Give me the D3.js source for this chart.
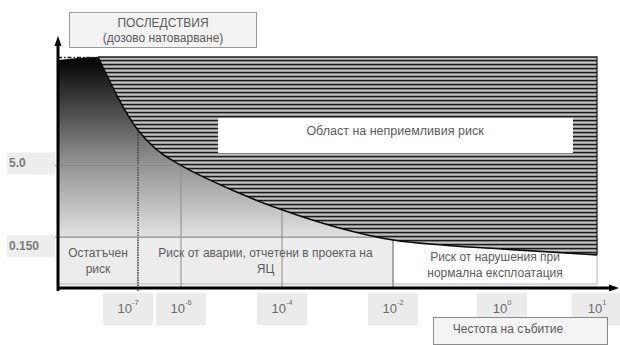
<!DOCTYPE html>
<html>
<head>
<meta charset="utf-8">
<script src="https://cdn.jsdelivr.net/npm/d3@7"></script>
<style>
  body { margin: 0; background: #fff; }
  svg text { font-family: "Liberation Sans", Arial, sans-serif; fill: #5c5c5c; }
</style>
</head>
<body>
<svg id="chart" width="620" height="345"></svg>
<script>
// boundary curve: frequency exponent (10^x) vs dose consequence
const freqExp = [-8, -7, -6.6, -6, -5.2, -4.6, -4, -3, -2, -1, 0, 1];
const doseVal = [1000, 28, 11.5, 5.0, 1.9, 1.0, 0.57, 0.24, 0.13, 0.1, 0.084, 0.063];

const freqTicks = [-7, -6, -4, -2, 0, 1];
const doseTicks = [5.0, 0.150];
const doseTickLabels = ["5.0", "0.150"];

const zoneFrom = [-9, -7, -2];
const zoneTo = [-7, -2, 1];
const zoneLabels = [
    ["Остатъчен", "риск"],
    ["Риск от аварии, отчетени в проекта на", "ЯЦ"],
    ["Риск от нарушения при", "нормална експлоатация"]
];

const yTitle = ["ПОСЛЕДСТВИЯ", "(дозово натоварване)"];
const xTitle = "Честота на събитие";
const areaLabel = "Област на неприемливия риск";

const svg = d3.select("#chart");

// x is a schematic log axis, decades are not evenly spaced in the drawing
const x = d3.scaleLinear()
    .domain([-9, -7, -6, -4, -2, 0, 1])
    .range([58, 138, 181, 282, 393, 502, 597]);
const y = d3.scaleLog()
    .domain([0.0125, 1000])
    .range([288, 57]);

const curve = freqExp.map((e, i) => ({e: e, v: doseVal[i]}));

const defs = svg.append("defs");
const grad = defs.append("linearGradient")
    .attr("id", "shade")
    .attr("gradientUnits", "userSpaceOnUse")
    .attr("x1", 0).attr("x2", 0)
    .attr("y1", 60).attr("y2", 252);
grad.append("stop").attr("offset", 0).attr("stop-color", "#050505");
grad.append("stop").attr("offset", 0.5).attr("stop-color", "#8a8a8a");
grad.append("stop").attr("offset", 1).attr("stop-color", "#f2f2f2");

const hatch = defs.append("pattern")
    .attr("id", "hatch")
    .attr("patternUnits", "userSpaceOnUse")
    .attr("width", 10).attr("height", 4);
hatch.append("rect").attr("width", 10).attr("height", 4).attr("fill", "#999");
hatch.append("rect").attr("y", 0).attr("width", 10).attr("height", 1.2).attr("fill", "#1c1c1c");
hatch.append("rect").attr("y", 2).attr("width", 10).attr("height", 1).attr("fill", "#c4c4c4");

// shaded acceptable region under the curve
const under = [{e: -9, v: 1000}].concat(curve);
svg.append("path")
    .datum(under)
    .attr("d", d3.area()
        .x(d => x(d.e))
        .y0(y.range()[0])
        .y1(d => d.e < -8 ? y(1000) + 3 : y(d.v))
        .curve(d3.curveMonotoneX))
    .attr("fill", "url(#shade)");

// zone boxes below 0.150
const zones = zoneLabels.map((l, i) => ({from: zoneFrom[i], to: zoneTo[i], lines: l, i: i}));
svg.append("g").selectAll("rect")
    .data(zones)
    .join("rect")
    .attr("x", d => x(d.from))
    .attr("y", y(0.150))
    .attr("width", d => x(d.to) - x(d.from))
    .attr("height", 284 - y(0.150))
    .attr("fill", d => d.i < 2 ? "#ececec" : "#ffffff")
    .attr("stroke", "#b8b8b8")
    .attr("stroke-width", 1);

// grid lines
const grid = svg.append("g");
grid.selectAll("line.v")
    .data([-6, -4, -2])
    .join("line")
    .attr("class", "v")
    .attr("x1", d => x(d)).attr("x2", d => x(d))
    .attr("y1", y.range()[1]).attr("y2", 288)
    .attr("stroke", d => d === -2 ? "#a8a8a8" : "#8c8c8c")
    .attr("stroke-width", d => d === -2 ? 2 : 1);
grid.append("line")
    .attr("x1", x(-7)).attr("x2", x(-7))
    .attr("y1", y.range()[1]).attr("y2", 291)
    .attr("stroke", "#333")
    .attr("stroke-width", 1.2)
    .attr("stroke-dasharray", "1.5,1");
grid.selectAll("line.h")
    .data(doseTicks)
    .join("line")
    .attr("class", "h")
    .attr("x1", 48).attr("x2", x(-2))
    .attr("y1", d => y(d)).attr("y2", d => y(d))
    .attr("stroke", "#8c8c8c")
    .attr("stroke-width", 1);

// zone texts
const zt = svg.append("g").selectAll("text")
    .data(zones)
    .join("text")
    .attr("text-anchor", "middle")
    .attr("font-size", 12)
    .attr("x", d => (x(d.from) + x(d.to)) / 2);
zt.selectAll("tspan")
    .data(d => d.lines.map((t, k) => ({t: t, k: k, d: d})))
    .join("tspan")
    .attr("x", o => (x(o.d.from) + x(o.d.to)) / 2)
    .attr("y", o => y(0.150) + (o.d.i === 2 ? 24 : 20) + o.k * 16)
    .text(o => o.t);

// unacceptable (hatched) region above the curve
svg.append("path")
    .datum(curve)
    .attr("d", d => {
        const line = d3.line().x(p => x(p.e)).y(p => y(p.v)).curve(d3.curveMonotoneX)(d);
        return line + "L" + x(1) + "," + y(1000) + "Z";
    })
    .attr("fill", "url(#hatch)");
svg.append("path")
    .datum(curve)
    .attr("d", d3.line().x(p => x(p.e)).y(p => y(p.v)).curve(d3.curveMonotoneX))
    .attr("fill", "none")
    .attr("stroke", "#0a0a0a")
    .attr("stroke-width", 1.6);
svg.append("path")
    .attr("d", `M${x(-8)},${y(1000)}H${x(1)}V${y(doseVal[doseVal.length - 1])}`)
    .attr("fill", "none")
    .attr("stroke", "#222")
    .attr("stroke-width", 1.3);

// dash-dot limit at the top left
svg.append("line")
    .attr("x1", 58).attr("x2", x(-8))
    .attr("y1", y(1000) + 0.5).attr("y2", y(1000) + 0.5)
    .attr("stroke", "#222")
    .attr("stroke-width", 1.5)
    .attr("stroke-dasharray", "4,2,1.5,2");

// label box in the hatched area
svg.append("rect")
    .attr("x", 218).attr("y", 118)
    .attr("width", 355).attr("height", 35)
    .attr("fill", "#fff");
svg.append("text")
    .attr("x", 395).attr("y", 135)
    .attr("text-anchor", "middle")
    .attr("font-size", 12.5)
    .text(areaLabel);

// axes
svg.append("line")
    .attr("x1", 58).attr("x2", 58)
    .attr("y1", 44).attr("y2", 291)
    .attr("stroke", "#000").attr("stroke-width", 3);
svg.append("path")
    .attr("d", "M58,36L61.5,46L54.5,46Z")
    .attr("fill", "#000");
svg.append("line")
    .attr("x1", 57).attr("x2", 611)
    .attr("y1", 288).attr("y2", 288)
    .attr("stroke", "#000").attr("stroke-width", 3);
svg.append("path")
    .attr("d", "M619,288L609,284.5L609,291.5Z")
    .attr("fill", "#000");

// y tick labels
const yl = svg.append("g").selectAll("g")
    .data(doseTicks)
    .join("g");
yl.append("rect")
    .attr("x", 7)
    .attr("y", (d, i) => i === 0 ? y(d) - 13 : y(d) - 2)
    .attr("width", 48).attr("height", 22)
    .attr("fill", "#ededed");
yl.append("text")
    .attr("x", 9)
    .attr("y", (d, i) => i === 0 ? y(d) + 2 : y(d) + 13)
    .attr("font-size", 12)
    .attr("font-weight", "bold")
    .style("fill", "#7a7a7a")
    .text((d, i) => doseTickLabels[i]);

// x tick labels, boxes pushed left when they would touch the next one
const bw = 50;
const centres = freqTicks.map(t => x(t));
for (let i = centres.length - 2; i >= 0; i--) {
    if (centres[i] + bw / 2 + 3 > centres[i + 1] - bw / 2) {
        centres[i] = centres[i + 1] - bw - 3;
    }
}
const xl = svg.append("g").selectAll("g")
    .data(freqTicks)
    .join("g");
xl.append("rect")
    .attr("x", (d, i) => centres[i] - bw / 2)
    .attr("y", 293)
    .attr("width", bw).attr("height", 32)
    .attr("fill", "#ebebeb");
const xt = xl.append("text")
    .attr("x", (d, i) => centres[i])
    .attr("y", 313)
    .attr("text-anchor", "middle")
    .attr("font-size", 13)
    .style("fill", "#6a6a6a");
xt.append("tspan").text("10");
xt.append("tspan")
    .attr("dy", -8)
    .attr("font-size", 7.5)
    .text(d => d);

// axis titles
svg.append("rect")
    .attr("x", 69.5).attr("y", 12.5)
    .attr("width", 187).attr("height", 35)
    .attr("fill", "#f2f2f2")
    .attr("stroke", "#9a9a9a");
svg.append("text")
    .attr("text-anchor", "middle")
    .attr("font-size", 12)
    .selectAll("tspan")
    .data(yTitle)
    .join("tspan")
    .attr("x", 163)
    .attr("y", (d, i) => 27 + i * 15)
    .text(d => d);

svg.append("rect")
    .attr("x", 433.5).attr("y", 317.5)
    .attr("width", 174).attr("height", 27)
    .attr("fill", "#f4f4f4")
    .attr("stroke", "#8a8a8a");
svg.append("text")
    .attr("x", 508).attr("y", 333)
    .attr("text-anchor", "middle")
    .attr("font-size", 12)
    .text(xTitle);
</script>
</body>
</html>
